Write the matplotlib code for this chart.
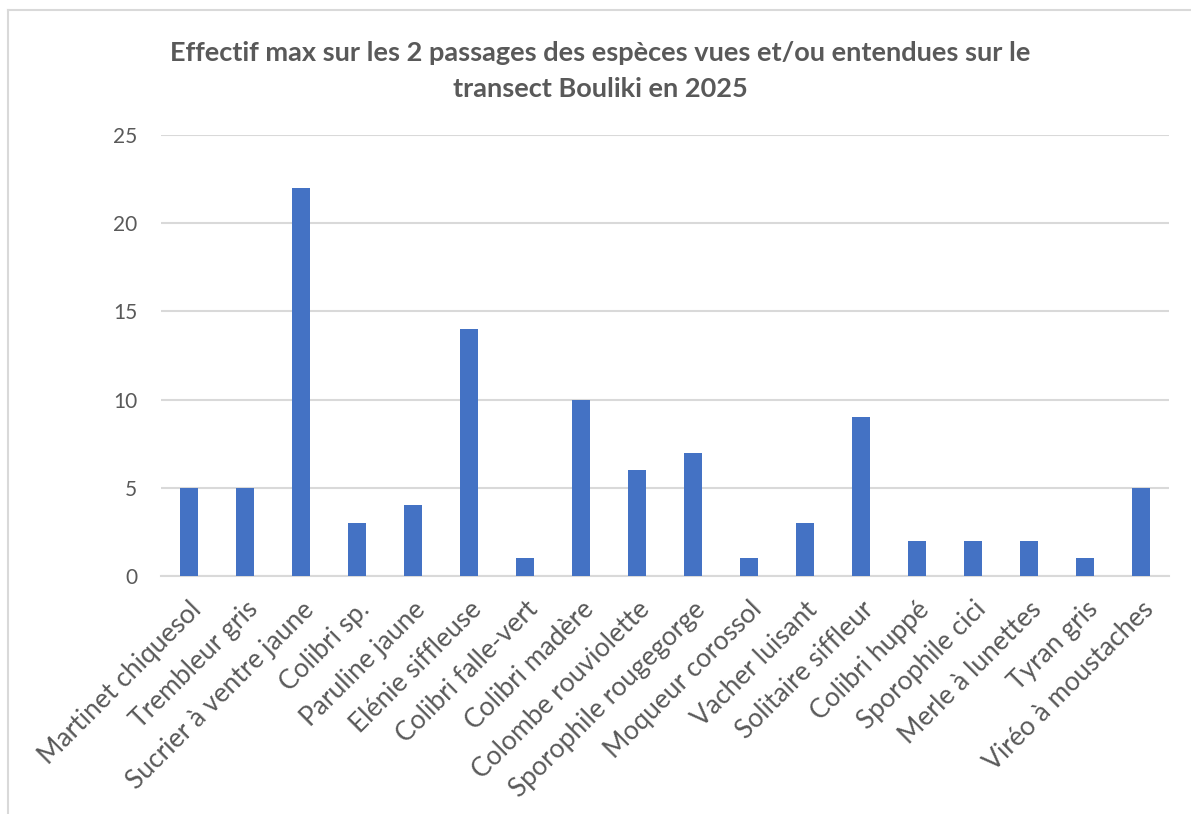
import matplotlib.pyplot as plt
from matplotlib.lines import Line2D

especes = ['Martinet chiquesol', 'Trembleur gris', 'Sucrier à ventre jaune', 'Colibri sp.',
           'Paruline jaune', 'Elénie siffleuse', 'Colibri falle-vert', 'Colibri madère',
           'Colombe rouviolette', 'Sporophile rougegorge', 'Moqueur corossol', 'Vacher luisant',
           'Solitaire siffleur', 'Colibri huppé', 'Sporophile cici', 'Merle à lunettes',
           'Tyran gris', 'Viréo à moustaches']
effectifs = [5, 5, 22, 3, 4, 14, 1, 10, 6, 7, 1, 3, 9, 2, 2, 2, 1, 5]
yticks = [0, 5, 10, 15, 20, 25]

plt.rcParams['font.family'] = ['Lato', 'DejaVu Sans']
gris = '#595959'

fig = plt.figure(figsize=(11.91, 8.14), dpi=100)
ax = fig.add_axes([161 / 1191, 1 - 576 / 814, (1169 - 161) / 1191, (576 - 135) / 814])

ax.bar(range(len(especes)), effectifs, width=0.32, color='#4472C4', zorder=3)
ax.set_xlim(-0.5, len(especes) - 0.5)
ax.set_ylim(0, 25)
ax.set_yticks(yticks)
ax.set_yticklabels([str(v) for v in yticks], fontsize=15, color=gris)
ax.set_xticks(range(len(especes)))
ax.set_xticklabels(especes, rotation=45, ha='right', rotation_mode='anchor', fontsize=19, color=gris)
ax.tick_params(axis='y', length=0, pad=17)
ax.tick_params(axis='x', length=0, pad=15)
ax.grid(axis='y', color='#D9D9D9', linewidth=1.5, zorder=0)
for s in ['top', 'right', 'left']:
    ax.spines[s].set_visible(False)
ax.spines['bottom'].set_color('#D9D9D9')
ax.spines['bottom'].set_linewidth(1.5)

fig.text(600 / 1191, 1 - 71 / 814,
         'Effectif max sur les 2 passages des espèces vues et/ou entendues sur le\ntransect Bouliki en 2025',
         ha='center', va='center', fontsize=19.5, fontweight='bold', color=gris, linespacing=1.6)

# cadre du graphique
fig.add_artist(Line2D([8 / 1191, 1], [1 - 10 / 814, 1 - 10 / 814], color='#D9D9D9', linewidth=1.5))
fig.add_artist(Line2D([8 / 1191, 8 / 1191], [0, 1 - 10 / 814], color='#D9D9D9', linewidth=1.5))

fig.savefig('out.png', dpi=100)
